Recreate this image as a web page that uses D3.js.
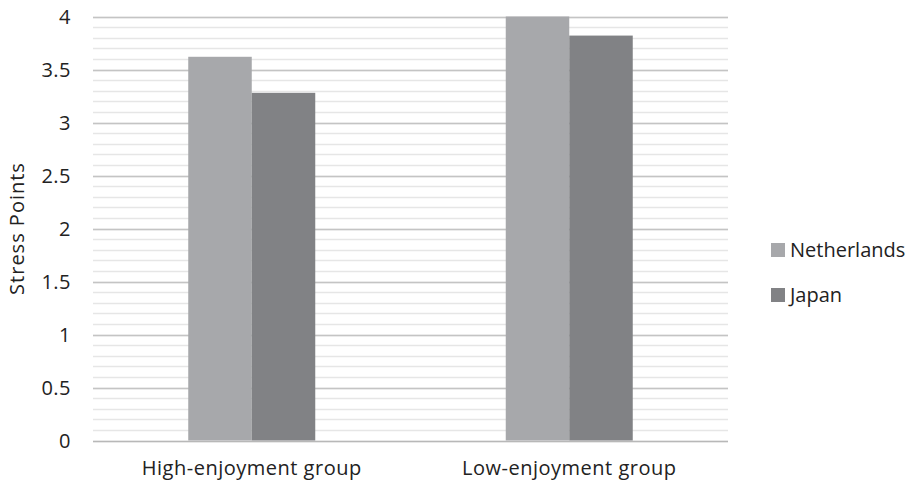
<!DOCTYPE html>
<html>
<head>
<meta charset="utf-8">
<script src="https://cdn.jsdelivr.net/npm/d3@7"></script>
<style>
  html, body { margin: 0; padding: 0; background: #fff; }
  svg text { font-family: "Open Sans", "Lato", sans-serif; fill: #222; }
</style>
</head>
<body>
<svg id="chart" width="911" height="489"></svg>
<script>
const groups = ["High-enjoyment group", "Low-enjoyment group"];
const seriesNames = ["Netherlands", "Japan"];
const netherlands = [3.62, 4.0];
const japan = [3.28, 3.82];
const seriesColors = ["#a7a8ab", "#818285"];
const yTicks = [0, 0.5, 1, 1.5, 2, 2.5, 3, 3.5, 4];
const yMinor = d3.range(0, 4.0001, 0.1);

const svg = d3.select("#chart");
const margin = { left: 93, right: 183, top: 16.5, bottom: 48.5 };
const W = 911, H = 489;
const fontSize = 20;

const x = d3.scaleBand().domain(groups).range([margin.left, W - margin.right]).paddingInner(0).paddingOuter(0);
const xs = d3.scaleBand().domain(seriesNames).range([0, x.bandwidth()]).paddingInner(0).paddingOuter(1.5);
const y = d3.scaleLinear().domain([0, 4]).range([H - margin.bottom, margin.top]);

// minor gridlines
svg.append("g").selectAll("line").data(yMinor).join("line")
  .attr("x1", margin.left).attr("x2", W - margin.right)
  .attr("y1", d => Math.round(y(d)) + 0.5).attr("y2", d => Math.round(y(d)) + 0.5)
  .attr("stroke", "#e6e6e6").attr("stroke-width", 1.5);

// major gridlines
svg.append("g").selectAll("line").data(yTicks).join("line")
  .attr("x1", margin.left).attr("x2", W - margin.right)
  .attr("y1", d => Math.round(y(d)) + 0.5).attr("y2", d => Math.round(y(d)) + 0.5)
  .attr("stroke", d => d === 0 ? "#b8b8b8" : "#c4c4c4").attr("stroke-width", 1.5);

// bars
const rows = groups.map((g, i) => [
  { group: g, series: seriesNames[0], value: netherlands[i] },
  { group: g, series: seriesNames[1], value: japan[i] }
]).flat();

svg.append("g").selectAll("rect").data(rows).join("rect")
  .attr("x", d => x(d.group) + xs(d.series))
  .attr("width", xs.bandwidth())
  .attr("y", d => y(d.value))
  .attr("height", d => y(0) - y(d.value))
  .attr("fill", d => seriesColors[seriesNames.indexOf(d.series)]);

// y axis labels
const yAxis = d3.axisLeft(y).tickValues(yTicks).tickSize(0).tickPadding(0)
  .tickFormat(d => d3.format("")(d));
const gy = svg.append("g").attr("transform", `translate(${margin.left - 22},0)`).call(yAxis);
gy.select(".domain").remove();
gy.selectAll("text").attr("font-size", fontSize).attr("font-family", "Open Sans")
  .attr("fill", "#222").attr("dy", "0.34em").attr("letter-spacing", 0.5);

// x axis labels
const xAxis = d3.axisBottom(x).tickSize(0).tickPadding(0);
const gx = svg.append("g").attr("transform", `translate(0,${H - margin.bottom + 20})`).call(xAxis);
gx.select(".domain").remove();
gx.selectAll("text").attr("font-size", fontSize).attr("font-family", "Open Sans")
  .attr("fill", "#222").attr("dy", "0.71em").attr("letter-spacing", 0.5);

// y title
svg.append("text")
  .attr("transform", `translate(24,${(margin.top + H - margin.bottom) / 2}) rotate(-90)`)
  .attr("text-anchor", "middle")
  .attr("font-size", fontSize)
  .attr("letter-spacing", 1)
  .text("Stress Points");

// legend
const legend = svg.append("g").selectAll("g").data(seriesNames).join("g")
  .attr("transform", (d, i) => `translate(771,${243 + i * 45})`);
legend.append("rect").attr("width", 14).attr("height", 14)
  .attr("fill", (d, i) => seriesColors[i]);
legend.append("text").attr("x", 19).attr("y", 7).attr("dy", "0.35em")
  .attr("font-size", fontSize).text(d => d);
</script>
</body>
</html>
